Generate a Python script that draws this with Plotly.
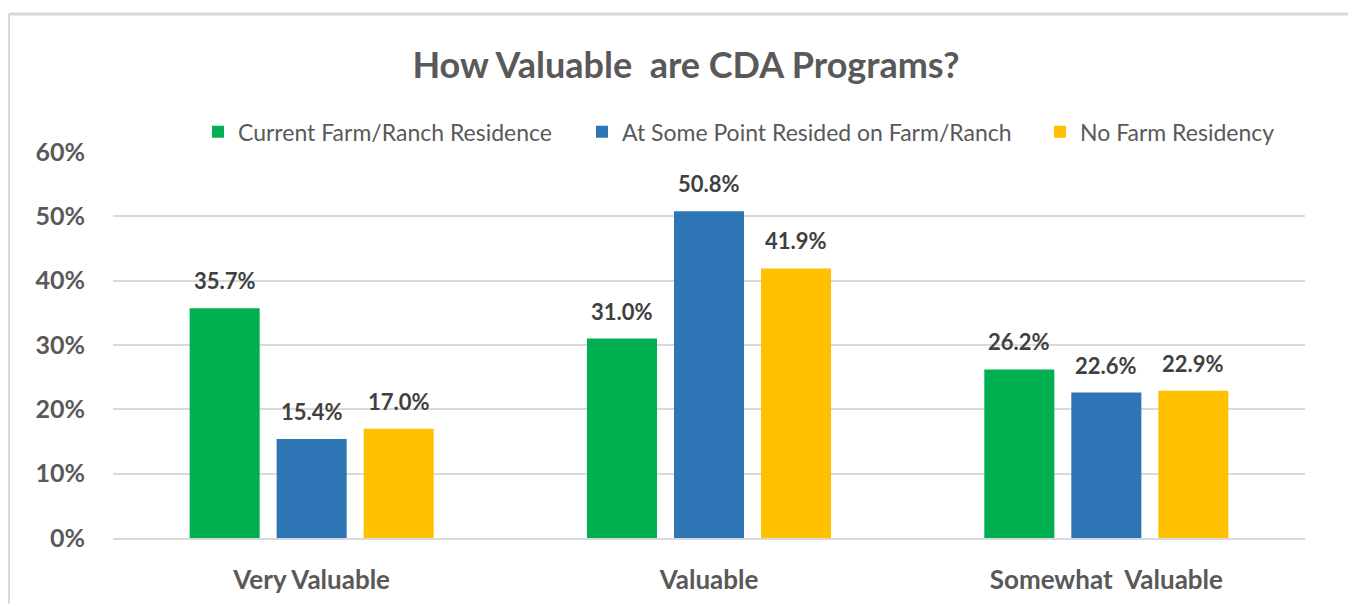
import plotly.graph_objects as go

categories = ["Very Valuable", "Valuable", "Somewhat  Valuable"]
series_names = ["Current Farm/Ranch Residence", "At Some Point Resided on Farm/Ranch", "No Farm Residency"]
current_farm = [35.7, 31.0, 26.2]
some_point = [15.4, 50.8, 22.6]
no_farm = [17.0, 41.9, 22.9]
colors = ["#00B050", "#2E75B6", "#FFC000"]
tick_vals = [0, 10, 20, 30, 40, 50, 60]
tick_text = ["0%", "10%", "20%", "30%", "40%", "50%", "60%"]

FONT = "Lato"
W, H = 1348, 599
L, R, T, B = 105, 51, 144, 66
PW, PH = W - L - R, H - T - B
SLOT = PW / 3 * (1 - 0.343) / 3

legend_ids = ["legend", "legend2", "legend3"]
legend_left_px = [190, 574, 1032]

fig = go.Figure()
for i, (name, vals, col) in enumerate(zip(series_names, [current_farm, some_point, no_farm], colors)):
    fig.add_trace(go.Bar(
        name=name, x=categories, y=vals, marker=dict(color=col, line=dict(width=0)),
        legend=legend_ids[i],
    ))
    for c, v in zip(categories, vals):
        fig.add_annotation(x=c, y=v, xref="x", yref="y", text=f"{v:.1f}%",
                           showarrow=False, yanchor="bottom", xanchor="center",
                           xshift=(i - 1) * SLOT, yshift=12,
                           font=dict(family=FONT, size=22, color="#404040", weight="bold"))

legend_common = dict(orientation="h", xanchor="left", y=1 + (T - 102) / PH, yanchor="top",
                     bgcolor="rgba(0,0,0,0)", font=dict(family=FONT, size=23, color="#595959"))

fig.update_layout(
    width=W, height=H,
    margin=dict(l=L, r=R, t=T, b=B),
    paper_bgcolor="white", plot_bgcolor="white",
    barmode="group", bargap=0.343, bargroupgap=0.195,
    title=dict(text="How Valuable  are CDA Programs?", x=678 / W, xanchor="center",
               y=1 - 57 / H, yanchor="middle",
               font=dict(family=FONT, size=36, color="#595959", weight="bold")),
    legend=dict(x=(legend_left_px[0] - L) / PW, **legend_common),
    legend2=dict(x=(legend_left_px[1] - L) / PW, **legend_common),
    legend3=dict(x=(legend_left_px[2] - L) / PW, **legend_common),
    yaxis=dict(range=[0, 60], tickvals=tick_vals, ticktext=tick_text,
               showgrid=True, gridcolor="#D9D9D9", gridwidth=2, zeroline=False,
               showline=False, ticks="", ticklabelstandoff=27,
               tickfont=dict(family=FONT, size=25, color="#595959", weight="bold")),
    xaxis=dict(showline=True, linecolor="#D9D9D9", linewidth=2, ticks="",
               tickfont=dict(family=FONT, size=26, color="#595959", weight="bold"),
               ticklabelstandoff=18),
    showlegend=True,
)
# legend box area (white) hiding the top gridline, as in the original
fig.add_shape(type="rect", xref="paper", yref="paper", layer="above",
              x0=(167 - L) / PW, x1=1.02, y0=1 - 5 / PH, y1=1 + 5 / PH,
              fillcolor="white", line=dict(width=0))
top_y = (PH + T - 5) / PH
left_x = (1 - L) / PW
fig.add_shape(type="line", xref="paper", yref="paper", x0=left_x, x1=(W - L) / PW,
              y0=top_y, y1=top_y, line=dict(color="#D9D9D9", width=3))
fig.add_shape(type="line", xref="paper", yref="paper", x0=left_x, x1=left_x,
              y0=top_y, y1=-B / PH, line=dict(color="#D9D9D9", width=2))
fig.write_html("out.html")
